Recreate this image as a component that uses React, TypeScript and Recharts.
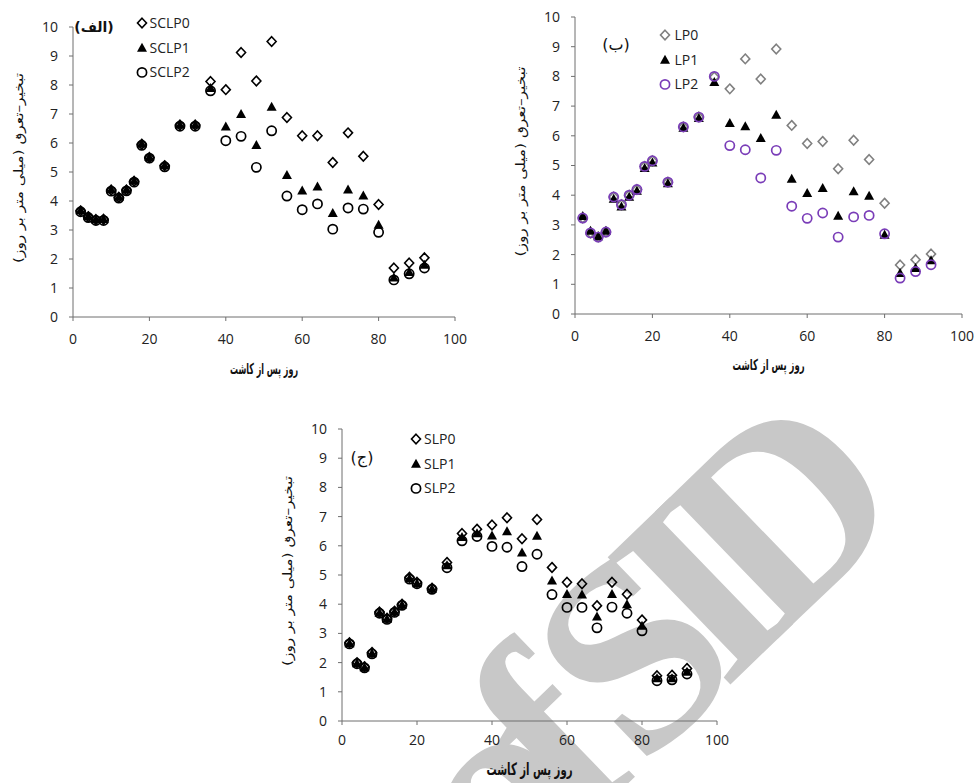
import React from 'react';
import { ScatterChart, Scatter, XAxis, YAxis, Legend } from 'recharts';

// days after planting
const days = [2, 4, 6, 8, 10, 12, 14, 16, 18, 20, 24, 28, 32, 36, 40, 44, 48, 52, 56, 60, 64, 68, 72, 76, 80, 84, 88, 92];

// (الف)
const sclp0 = [3.66, 3.46, 3.36, 3.37, 4.38, 4.13, 4.38, 4.68, 5.96, 5.5, 5.22, 6.62, 6.62, 8.12, 7.84, 9.12, 8.14, 9.5, 6.88, 6.25, 6.25, 5.33, 6.35, 5.54, 3.88, 1.69, 1.86, 2.04];
const sclp1 = [3.68, 3.48, 3.37, 3.38, 4.4, 4.15, 4.4, 4.7, 5.97, 5.52, 5.23, 6.63, 6.63, 7.9, 6.57, 7.0, 5.93, 7.25, 4.9, 4.36, 4.5, 3.59, 4.4, 4.19, 3.18, 1.36, 1.55, 1.8];
const sclp2 = [3.63, 3.43, 3.33, 3.33, 4.34, 4.1, 4.35, 4.65, 5.92, 5.48, 5.18, 6.58, 6.58, 7.8, 6.08, 6.23, 5.16, 6.42, 4.17, 3.7, 3.9, 3.03, 3.76, 3.72, 2.92, 1.28, 1.49, 1.69];

// (ب)
const lp0 = [3.23, 2.73, 2.59, 2.76, 3.94, 3.68, 4.0, 4.19, 4.97, 5.16, 4.44, 6.3, 6.63, 7.98, 7.58, 8.59, 7.91, 8.92, 6.35, 5.74, 5.81, 4.89, 5.85, 5.2, 3.73, 1.65, 1.83, 2.02];
const lp1 = [3.3, 2.8, 2.62, 2.8, 3.88, 3.62, 3.95, 4.15, 4.92, 5.1, 4.4, 6.27, 6.6, 7.81, 6.43, 6.32, 5.93, 6.71, 4.55, 4.07, 4.24, 3.31, 4.13, 3.98, 2.67, 1.38, 1.55, 1.81];
const lp2 = [3.23, 2.73, 2.59, 2.76, 3.94, 3.68, 4.0, 4.19, 4.97, 5.16, 4.44, 6.3, 6.63, 8.0, 5.67, 5.53, 4.58, 5.51, 3.63, 3.22, 3.4, 2.59, 3.27, 3.32, 2.7, 1.21, 1.43, 1.66];

// (ج)
const slp0 = [2.68, 2.0, 1.86, 2.35, 3.73, 3.52, 3.76, 4.0, 4.92, 4.75, 4.55, 5.43, 6.42, 6.57, 6.71, 6.96, 6.24, 6.9, 5.26, 4.75, 4.7, 3.95, 4.75, 4.34, 3.46, 1.55, 1.57, 1.8];
const slp1 = [2.66, 1.98, 1.84, 2.32, 3.71, 3.5, 3.74, 3.98, 4.89, 4.72, 4.53, 5.33, 6.3, 6.43, 6.35, 6.5, 5.77, 6.34, 4.81, 4.35, 4.33, 3.58, 4.35, 4.0, 3.26, 1.46, 1.46, 1.69];
const slp2 = [2.64, 1.96, 1.82, 2.3, 3.69, 3.48, 3.72, 3.96, 4.86, 4.7, 4.51, 5.25, 6.17, 6.32, 5.98, 5.95, 5.29, 5.71, 4.33, 3.89, 3.89, 3.19, 3.9, 3.69, 3.09, 1.38, 1.41, 1.61];

const xTicks = [0, 20, 40, 60, 80, 100];
const yTicks = [0, 1, 2, 3, 4, 5, 6, 7, 8, 9, 10];

const X_TITLE = 'روز پس از کاشت';
const Y_TITLE = 'تبخیر–تعرق (میلی متر بر روز)\u200F';

const TICK_FONT = '"Open Sans", "Liberation Sans", sans-serif';
const FA_FONT = '"DejaVu Sans", sans-serif';

const toPoints = (vals: number[]) => days.map((d, i) => ({ x: d, y: vals[i] }));

function marker(type: string, cx: number, cy: number, color: string) {
  if (type === 'diamond') {
    return (
      <path
        d={`M${cx},${cy - 4.8} L${cx + 4.5},${cy} L${cx},${cy + 4.8} L${cx - 4.5},${cy} Z`}
        fill="none"
        stroke={color}
        strokeWidth={1.6}
      />
    );
  }
  if (type === 'triangle') {
    return <path d={`M${cx},${cy - 5} L${cx + 5},${cy + 4} L${cx - 5},${cy + 4} Z`} fill={color} />;
  }
  return <circle cx={cx} cy={cy} r={4.6} fill="none" stroke={color} strokeWidth={1.7} />;
}

interface SeriesDef {
  name: string;
  values: number[];
  type: 'diamond' | 'triangle' | 'circle';
  color: string;
}

interface PanelProps {
  left: number;
  top: number;
  width: number;
  height: number;
  plotTop: number;
  plotBottom: number;
  yAxisWidth: number;
  rightMargin: number;
  xTickMargin: number;
  xTitleOffset: number;
  xTitleSize: number;
  xTitleLength: number;
  series: SeriesDef[];
  legendX: number;
  legendY: number;
  legendGap: number;
  tag: string;
  tagX: number;
  tagY: number;
  tagBold?: boolean;
}

function Panel(p: PanelProps) {
  const xAxisHeight = p.height - p.plotBottom;
  const renderLegend = (props: any) => {
    const payload = props.payload || [];
    return (
      <svg width={90} height={80} style={{ display: 'block', overflow: 'visible' }}>
        {payload.map((item: any, i: number) => {
          const s = p.series[i];
          const cy = 12 + i * 24.7;
          return (
            <g key={item.value}>
              {marker(s.type, 6, cy, s.color)}
              <text x={6 + p.legendGap} y={cy} dy="0.35em" fontSize={14} fontFamily={TICK_FONT} fill="#222">
                {item.value}
              </text>
            </g>
          );
        })}
      </svg>
    );
  };

  return (
    <div style={{ position: 'absolute', left: p.left, top: p.top, width: p.width, height: p.height }}>
      <ScatterChart
        width={p.width}
        height={p.height}
        margin={{ top: p.plotTop, right: p.rightMargin, bottom: 0, left: 0 }}
      >
        <XAxis
          type="number"
          dataKey="x"
          domain={[0, 100]}
          ticks={xTicks}
          height={xAxisHeight}
          stroke="#6e6e6e"
          tickSize={4}
          tickMargin={p.xTickMargin}
          tick={{ fill: '#222', fontSize: 14, fontFamily: TICK_FONT }}
          label={{
            content: (lp: any) => {
              const vb = lp.viewBox;
              return (
                <text
                  x={vb.x + vb.width / 2}
                  y={vb.y + p.xTitleOffset}
                  textAnchor="middle"
                  dominantBaseline="central"
                  fontSize={p.xTitleSize}
                  fontWeight="bold"
                  fontFamily={FA_FONT}
                  fill="#111"
                  textLength={p.xTitleLength}
                  lengthAdjust="spacingAndGlyphs"
                >
                  {X_TITLE}
                </text>
              );
            },
          }}
        />
        <YAxis
          type="number"
          dataKey="y"
          domain={[0, 10]}
          ticks={yTicks}
          width={p.yAxisWidth}
          stroke="#6e6e6e"
          tickSize={4}
          tickMargin={11}
          tick={{ fill: '#222', fontSize: 14, fontFamily: TICK_FONT }}
          label={{
            content: (lp: any) => {
              const vb = lp.viewBox;
              const cx = vb.x + vb.width - 55;
              const cy = vb.y + vb.height / 2 - 4;
              return (
                <text
                  x={cx}
                  y={cy}
                  transform={`rotate(-90, ${cx}, ${cy})`}
                  textAnchor="middle"
                  dominantBaseline="central"
                  direction="rtl"
                  fontSize={12.5}
                  fontFamily={FA_FONT}
                  fill="#111"
                  textLength={190}
                  lengthAdjust="spacingAndGlyphs"
                >
                  {Y_TITLE}
                </text>
              );
            },
          }}
        />
        <Legend
          layout="vertical"
          align="center"
          verticalAlign="middle"
          content={renderLegend}
          wrapperStyle={{ left: p.legendX - 6, top: p.legendY - 12, width: 90, height: 80 }}
        />
        {p.series.map((s) => (
          <Scatter
            key={s.name}
            name={s.name}
            data={toPoints(s.values)}
            legendType={s.type}
            fill={s.color}
            isAnimationActive={false}
            shape={(sp: any) => marker(s.type, sp.cx, sp.cy, s.color)}
          />
        ))}
      </ScatterChart>
      <div
        style={{
          position: 'absolute',
          left: p.tagX,
          top: p.tagY,
          transform: 'translate(-50%, -50%)',
          fontFamily: FA_FONT,
          fontSize: p.tagBold ? 14 : 16,
          fontWeight: p.tagBold ? 'bold' : 'normal',
          color: '#111',
          whiteSpace: 'nowrap',
          lineHeight: 1,
        }}
      >
        {p.tag}
      </div>
    </div>
  );
}

export default function App() {
  return (
    <div
      style={{
        position: 'absolute',
        left: 0,
        top: 0,
        width: 974,
        height: 783,
        background: '#fff',
        overflow: 'hidden',
      }}
    >
      <svg width={974} height={783} style={{ position: 'absolute', left: 0, top: 0 }}>
        <text
          transform="translate(636, 652) rotate(-44)"
          textAnchor="middle"
          y={89}
          fontSize={270}
          fontWeight="bold"
          letterSpacing={-35}
          fontFamily='"Liberation Serif", serif'
          fill="#c8c8c8"
        >
          of SID
        </text>
      </svg>
      <Panel
        left={0}
        top={0}
        width={480}
        height={390}
        plotTop={27}
        plotBottom={317}
        yAxisWidth={73}
        rightMargin={25}
        xTickMargin={13}
        xTitleOffset={52}
        xTitleSize={15}
        xTitleLength={68}
        series={[
          { name: 'SCLP0', values: sclp0, type: 'diamond', color: '#000' },
          { name: 'SCLP1', values: sclp1, type: 'triangle', color: '#000' },
          { name: 'SCLP2', values: sclp2, type: 'circle', color: '#000' },
        ]}
        legendX={141.5}
        legendY={22.7}
        legendGap={7.5}
        tag="(الف)"
        tagX={94}
        tagY={27}
        tagBold
      />
      <Panel
        left={500}
        top={0}
        width={474}
        height={390}
        plotTop={17}
        plotBottom={314}
        yAxisWidth={75}
        rightMargin={12}
        xTickMargin={13}
        xTitleOffset={51}
        xTitleSize={15}
        xTitleLength={72}
        series={[
          { name: 'LP0', values: lp0, type: 'diamond', color: '#808080' },
          { name: 'LP1', values: lp1, type: 'triangle', color: '#000' },
          { name: 'LP2', values: lp2, type: 'circle', color: '#7a3db8' },
        ]}
        legendX={165.3}
        legendY={35}
        legendGap={9.5}
        tag="(ب)"
        tagX={116}
        tagY={45}
      />
      <Panel
        left={260}
        top={400}
        width={480}
        height={383}
        plotTop={29}
        plotBottom={321}
        yAxisWidth={82}
        rightMargin={23}
        xTickMargin={10}
        xTitleOffset={48}
        xTitleSize={17}
        xTitleLength={86}
        series={[
          { name: 'SLP0', values: slp0, type: 'diamond', color: '#000' },
          { name: 'SLP1', values: slp1, type: 'triangle', color: '#000' },
          { name: 'SLP2', values: slp2, type: 'circle', color: '#000' },
        ]}
        legendX={156}
        legendY={39.3}
        legendGap={8}
        tag="(ج)"
        tagX={102}
        tagY={57.5}
      />
    </div>
  );
}
